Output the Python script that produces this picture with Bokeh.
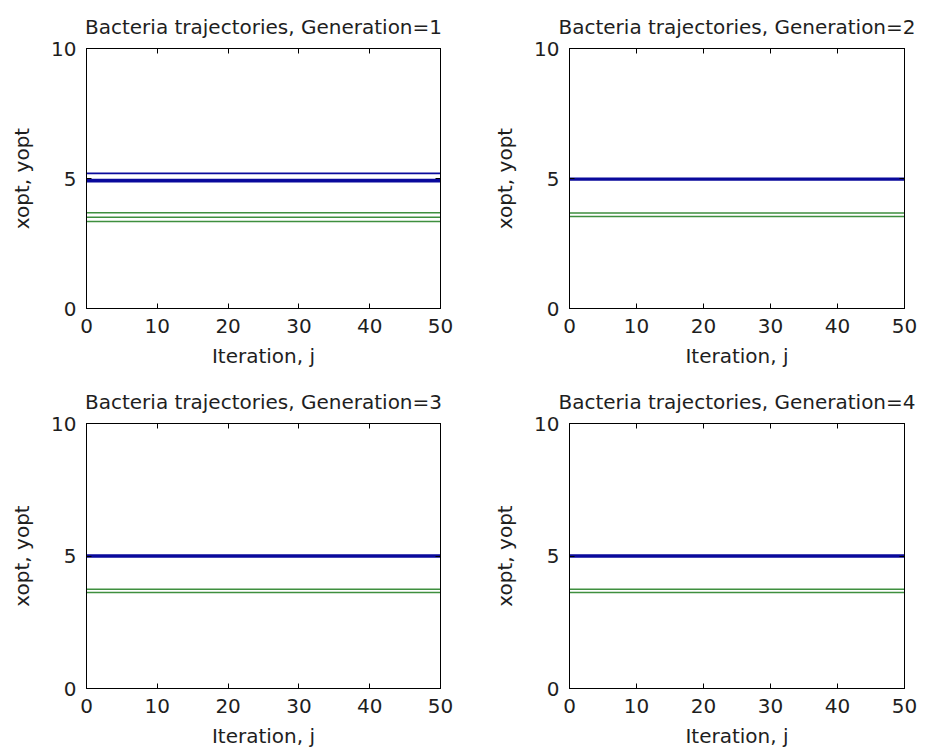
from bokeh.plotting import figure
from bokeh.models import Range1d, LinearAxis, FixedTicker
from bokeh.layouts import column, row
from bokeh.embed import file_html
from bokeh.resources import INLINE

# ---- data ----
iterations = list(range(0, 51))
x_ticks = [0, 10, 20, 30, 40, 50]
y_ticks = [0, 5, 10]
generations = [1, 2, 3, 4]
# constant trajectories (xopt in blue, yopt in green) per generation
xopt_gen1 = [5.20, 4.96, 4.92, 4.88]
yopt_gen1 = [3.68, 3.51, 3.35]
xopt_gen2 = [5.01, 4.95]
yopt_gen2 = [3.67, 3.54]
xopt_gen3 = [5.03, 4.97]
yopt_gen3 = [3.75, 3.62]
xopt_gen4 = [5.03, 4.97]
yopt_gen4 = [3.75, 3.62]

FONT = "DejaVu Sans"
TXT = "#1e1e1e"
BLUE = "#0a0a9c"
GREEN = "#3f8f3f"


def style_axis(ax, labels=True):
    ax.axis_line_color = "black"
    ax.major_tick_line_color = "black"
    ax.major_tick_in = 5
    ax.major_tick_out = 0
    ax.minor_tick_line_color = None
    ax.major_label_text_font = FONT
    ax.major_label_text_font_size = "20px" if labels else "1px"
    ax.major_label_text_color = TXT if labels else None
    ax.axis_label_text_font = FONT
    ax.axis_label_text_font_size = "20px"
    ax.axis_label_text_font_style = "normal"
    ax.axis_label_text_color = TXT


def make(gen, xopt, yopt, bl, br, bt, bb, fh):
    p = figure(width=bl + 354 + br, height=bt + fh + bb,
               x_range=Range1d(0, 50), y_range=Range1d(0, 10),
               output_backend="svg", toolbar_location=None,
               min_border_left=bl, min_border_right=br,
               min_border_top=bt, min_border_bottom=bb)
    p.title.text = f"Bacteria trajectories, Generation={gen}"
    p.title.align = "center"
    p.title.text_font = FONT
    p.title.text_font_size = "20px"
    p.title.text_font_style = "normal"
    p.title.text_color = TXT
    p.title.standoff = 20
    p.grid.visible = False
    p.outline_line_color = "black"
    p.outline_line_alpha = 1
    p.background_fill_color = "white"
    p.border_fill_color = "white"

    p.xaxis.ticker = FixedTicker(ticks=x_ticks)
    p.yaxis.ticker = FixedTicker(ticks=y_ticks)
    p.xaxis.axis_label = "Iteration, j"
    p.yaxis.axis_label = "xopt, yopt"
    for ax in p.xaxis:
        style_axis(ax)
        ax.major_label_standoff = 10
        ax.axis_label_standoff = 8
    for ax in p.yaxis:
        style_axis(ax)
        ax.major_label_standoff = 10
        ax.axis_label_standoff = 14

    top = LinearAxis(ticker=FixedTicker(ticks=x_ticks))
    style_axis(top, labels=False)
    top.major_label_standoff = 0
    right = LinearAxis(ticker=FixedTicker(ticks=y_ticks))
    style_axis(right, labels=False)
    right.major_label_standoff = 0
    p.add_layout(top, "above")
    p.add_layout(right, "right")

    for v in yopt:
        p.line(iterations, [v] * len(iterations), line_color=GREEN, line_width=1.5)
    for v in xopt:
        p.line(iterations, [v] * len(iterations), line_color=BLUE, line_width=1.7)
    return p


p1 = make(1, xopt_gen1, yopt_gen1, 86, 50, 48, 67, 260)
p2 = make(2, xopt_gen2, yopt_gen2, 60, 26, 48, 67, 260)
p3 = make(3, xopt_gen3, yopt_gen3, 86, 50, 48, 63, 265)
p4 = make(4, xopt_gen4, yopt_gen4, 60, 26, 48, 63, 265)

layout = column(row(p1, p2, spacing=0), row(p3, p4, spacing=0), spacing=0)
open("out.html", "w").write(file_html(layout, INLINE))
